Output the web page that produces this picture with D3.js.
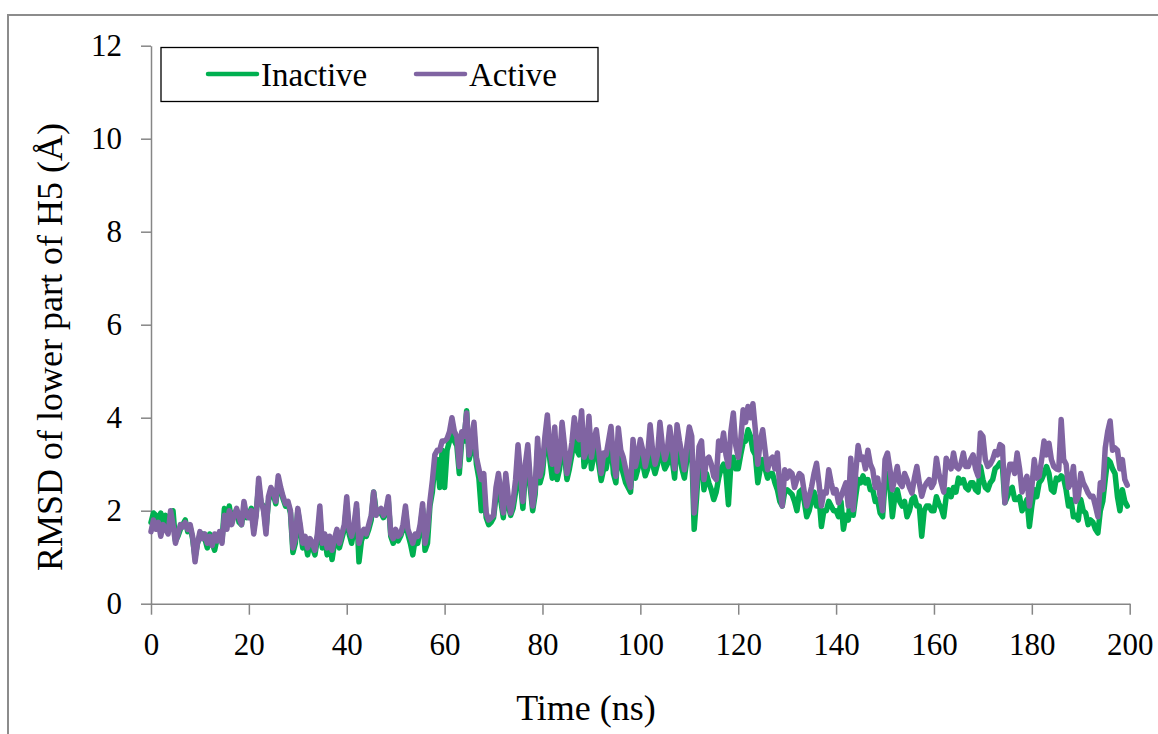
<!DOCTYPE html>
<html>
<head>
<meta charset="utf-8">
<script src="https://cdn.jsdelivr.net/npm/d3@7"></script>
<style>
  html, body { margin: 0; padding: 0; background: #fff; }
  svg { display: block; }
</style>
</head>
<body>
<svg id="chart" width="1158" height="734"></svg>
<script>
// RMSD of the lower part of H5, sampled every 0.5 ns (one row = 5 ns)
const timeStep = 0.5;
const xTicks = [0, 20, 40, 60, 80, 100, 120, 140, 160, 180, 200];
const yTicks = [0, 2, 4, 6, 8, 10, 12];
const seriesNames = ["Inactive", "Active"];

const inactive = [
  1.75,1.95, 1.9,1.8, 1.95,1.65, 1.9,1.55, 1.75,2.0,      // 0
  1.35,1.45, 1.6,1.7, 1.8,1.55, 1.65,1.4, 1.0,1.3,        // 5
  1.45,1.5, 1.4,1.2, 1.5,1.3, 1.15,1.4, 1.5,1.35,         // 10
  2.05,1.7, 2.1,1.75, 1.95,2.0, 1.75,1.7, 2.05,1.85,      // 15
  1.9,2.05, 1.6,1.95, 2.55,2.15, 2.1,1.6, 2.2,2.45,       // 20
  2.35,2.15, 2.6,2.45, 2.25,2.1, 2.15,1.95, 1.1,1.3,      // 25
  2.0,1.6, 1.2,1.35, 1.05,1.3, 1.2,1.05, 1.4,1.9,         // 30
  1.2,1.4, 1.05,1.35, 0.95,1.3, 1.5,1.2, 1.4,1.6,         // 35
  2.15,1.5, 1.3,1.6, 2.05,0.9, 1.35,1.5, 1.45,1.6,        // 40
  1.8,2.4, 2.0,1.95, 1.95,1.85, 1.95,2.2, 1.45,1.3,       // 45
  1.5,1.35, 1.45,1.6, 2.0,1.5, 1.3,1.05, 1.4,1.3,         // 50
  1.6,2.05, 1.15,1.3, 2.1,2.4, 3.0,3.1, 2.5,3.3,          // 55
  2.5,3.3, 3.5,3.7, 3.5,3.4, 2.8,3.5, 3.5,4.15,           // 60
  3.1,3.3, 3.7,3.0, 2.7,2.0, 2.5,1.85, 1.7,1.75,          // 65
  1.85,2.3, 2.6,2.2, 1.85,2.7, 2.1,1.9, 2.05,2.4,         // 70
  3.2,2.6, 2.05,2.8, 3.2,2.5, 2.0,2.35, 3.3,2.6,          // 75
  2.8,3.4, 3.8,3.1, 2.7,3.55, 2.67,2.9, 3.6,3.2,          // 80
  2.67,2.9, 3.2,3.7, 3.3,3.2, 3.9,2.95, 3.1,3.7,          // 85
  2.9,3.2, 3.4,3.0, 2.65,2.9, 2.9,3.2, 3.5,2.8,           // 90
  2.6,3.4, 3.0,2.8, 2.6,2.5, 2.4,3.2, 2.7,2.9,            // 95
  3.2,3.0, 2.75,2.9, 3.5,3.0, 2.8,3.0, 3.6,3.1,           // 100
  2.9,3.0, 3.5,3.1, 2.7,3.5, 3.2,2.9, 2.7,3.1,            // 105
  3.5,3.3, 1.6,2.3, 3.1,3.2, 2.45,2.8, 2.6,2.45,          // 110
  2.24,2.4, 2.7,2.9, 3.0,2.8, 2.13,3.0, 3.15,2.9,         // 115
  2.9,3.2, 3.46,3.5, 3.74,3.6, 3.3,3.2, 2.6,2.9,          // 120
  3.1,2.9, 2.7,2.8, 2.8,2.6, 2.45,2.2, 2.1,2.4,           // 125
  2.45,2.4, 2.35,2.2, 2.0,2.4, 2.45,2.2, 1.87,2.0,        // 130
  2.24,2.4, 2.1,2.3, 1.66,2.0, 2.0,2.2, 2.1,2.0,          // 135
  2.0,1.87, 2.2,1.6, 1.9,1.8, 2.45,1.9, 2.3,2.67,         // 140
  2.6,2.75, 2.6,2.67, 2.45,2.45, 2.2,2.24, 1.95,1.87,     // 145
  2.6,2.8, 2.5,1.87, 2.3,2.45, 2.2,2.1, 2.2,1.87,         // 150
  2.0,2.24, 2.3,2.1, 2.1,1.45, 2.0,2.1, 2.1,2.0,          // 155
  2.0,2.3, 2.15,2.05, 1.87,2.3, 2.45,2.3, 2.5,2.4,        // 160
  2.7,2.6, 2.67,2.5, 2.45,2.6, 2.6,2.45, 2.4,2.95,        // 165
  2.67,2.5, 2.45,2.6, 2.67,2.9, 2.95,3.03, 2.95,2.17,     // 170
  2.3,2.45, 2.5,2.24, 2.24,2.3, 2.0,2.1, 2.24,1.66,       // 175
  2.1,2.45, 2.3,2.6, 2.67,2.8, 2.95,2.8, 2.45,2.4,        // 180
  2.7,2.67, 2.75,2.7, 2.45,2.1, 2.24,1.87, 1.9,1.8,       // 185
  2.24,2.0, 1.95,1.7, 1.8,1.75, 1.6,1.52, 2.0,2.2,        // 190
  2.67,3.1, 3.05,2.9, 2.8,2.3, 2.0,2.45, 2.2,2.1          // 195
];

const active = [
  1.55,1.8, 1.6,1.75, 1.45,1.7, 1.6,1.5, 2.0,1.7,         // 0
  1.3,1.5, 1.7,1.65, 1.75,1.6, 1.7,1.45, 0.9,1.3,         // 5
  1.55,1.4, 1.5,1.3, 1.45,1.25, 1.5,1.35, 1.55,1.3,       // 10
  1.9,1.6, 2.0,1.7, 1.9,2.05, 1.85,1.7, 2.2,1.9,          // 15
  1.85,2.0, 1.5,1.9, 2.7,2.2, 2.0,1.5, 2.3,2.5,           // 20
  2.4,2.2, 2.75,2.5, 2.3,2.15, 2.2,2.0, 1.2,1.4,          // 25
  2.05,1.7, 1.3,1.45, 1.2,1.4, 1.3,1.15, 1.5,2.1,         // 30
  1.3,1.5, 1.2,1.45, 1.15,1.4, 1.6,1.3, 1.5,1.7,          // 35
  2.3,1.6, 1.45,1.7, 2.15,1.3, 1.5,1.6, 1.5,1.7,          // 40
  1.9,2.4, 1.9,2.0, 2.05,1.9, 2.0,2.3, 1.5,1.4,           // 45
  1.6,1.45, 1.5,1.7, 2.1,1.6, 1.45,1.3, 1.5,1.45,         // 50
  1.7,2.15, 1.3,1.6, 2.2,2.65, 3.2,3.3, 3.3,3.5,          // 55
  3.5,3.55, 3.7,4.0, 3.7,3.6, 2.95,3.7, 3.6,4.1,          // 60
  3.2,3.5, 3.9,3.15, 2.9,2.67, 2.8,1.95, 1.8,1.85,        // 65
  1.9,2.5, 2.8,2.4, 1.95,2.8, 2.3,1.95, 2.2,2.67,         // 70
  3.42,2.8, 2.2,3.0, 3.42,2.67, 2.1,2.5, 3.56,2.74,       // 75
  3.0,3.6, 4.06,3.3, 3.0,3.8, 2.85,3.1, 3.9,3.4,          // 80
  2.8,3.1, 3.46,4.0, 3.6,3.53, 4.15,3.15, 3.3,4.03,       // 85
  3.15,3.5, 3.74,3.3, 2.8,3.24, 3.2,3.5, 3.81,3.1,        // 90
  2.74,3.78, 3.3,3.15, 2.9,2.67, 2.5,3.53, 2.95,3.2,      // 95
  3.53,3.3, 2.95,3.2, 3.85,3.3, 3.0,3.2, 3.9,3.4,         // 100
  3.1,3.3, 3.8,3.4, 2.9,3.85, 3.5,3.2, 2.88,3.4,          // 105
  3.8,3.6, 1.95,2.6, 3.38,3.5, 2.67,3.1, 3.15,3.0,        // 110
  2.74,2.67, 3.5,3.3, 3.67,3.2, 2.95,3.7, 4.1,3.4,        // 115
  3.15,3.5, 4.17,3.9, 4.24,4.0, 4.3,3.74, 3.0,3.5,        // 120
  3.74,3.3, 2.88,3.1, 3.15,2.9, 3.24,2.5, 2.1,2.88,       // 125
  2.7,2.85, 2.8,2.5, 2.67,2.8, 2.75,2.4, 2.1,2.3,         // 130
  2.52,2.8, 3.02,2.6, 2.1,2.4, 2.38,2.88, 2.6,2.38,       // 135
  2.45,2.17, 2.3,2.45, 2.6,2.1, 3.13,2.02, 2.8,3.4,       // 140
  3.1,3.15, 2.9,3.3, 3.0,2.88, 2.5,2.7, 2.3,2.0,          // 145
  3.1,3.24, 2.9,2.45, 2.7,2.95, 2.6,2.52, 2.8,2.67,       // 150
  2.5,2.38, 2.7,2.95, 2.6,2.31, 2.5,2.6, 2.67,2.5,        // 155
  2.6,3.13, 2.8,2.6, 2.4,3.13, 3.0,2.9, 3.24,2.95,        // 160
  2.9,3.0, 3.24,2.95, 2.95,3.1, 3.2,2.9, 2.75,3.67,       // 165
  3.6,3.1, 2.95,3.0, 3.1,3.27, 3.2,3.42, 3.38,2.17,       // 170
  2.7,3.0, 3.0,2.8, 3.24,2.9, 2.4,2.6, 2.74,2.1,          // 175
  2.5,3.1, 2.7,2.74, 3.1,3.5, 3.2,3.45, 3.1,2.95,         // 180
  2.9,2.88, 3.96,3.1, 3.0,2.5, 2.6,2.95, 2.2,2.3,         // 185
  2.8,2.6, 2.5,2.38, 2.3,2.31, 2.1,1.87, 2.6,2.45,        // 190
  3.35,3.7, 3.93,3.3, 3.35,3.3, 2.9,3.1, 2.67,2.55        // 195
];

const colors = { Inactive: "#00B050", Active: "#8064A2" };
const axisGray = "#868686";
const serif = '"Liberation Serif", "Times New Roman", serif';

const svg = d3.select("#chart")
  .attr("font-family", serif)
  .style("font-family", serif);

// Outer chart-area frame (top and left edges)
svg.append("path")
  .attr("d", "M8,734 L8,15 L1158,15")
  .attr("fill", "none")
  .attr("stroke", "#8c8c8c")
  .attr("stroke-width", 2);

const plot = { left: 151, right: 1129.7, top: 45.7, bottom: 603.7 };

const x = d3.scaleLinear().domain([0, 200]).range([plot.left, plot.right]);
const y = d3.scaleLinear().domain([0, 12]).range([plot.bottom, plot.top]);

// Axes
const yAxis = svg.append("g")
  .attr("transform", `translate(${plot.left},0)`)
  .call(d3.axisLeft(y).tickValues(yTicks).tickSize(10).tickSizeOuter(0).tickPadding(19)
    .tickFormat(d3.format("d")));

const xAxis = svg.append("g")
  .attr("transform", `translate(0,${plot.bottom})`)
  .call(d3.axisBottom(x).tickValues(xTicks).tickSize(11).tickSizeOuter(0).tickPadding(18)
    .tickFormat(d3.format("d")));

[xAxis, yAxis].forEach(g => {
  g.attr("font-family", serif).attr("font-size", 31);
  g.select(".domain").attr("stroke", axisGray).attr("stroke-width", 1.5);
  g.selectAll(".tick line").attr("stroke", axisGray).attr("stroke-width", 1.5);
  g.selectAll(".tick text")
    .attr("fill", "#000")
    .style("font-family", serif)
    .style("font-size", "31px");
});

// Series lines (inactive first, active drawn over it)
const line = d3.line()
  .x((d, i) => x(i * timeStep))
  .y(d => y(d));

[["Inactive", inactive], ["Active", active]].forEach(([name, values]) => {
  svg.append("path")
    .datum(values)
    .attr("fill", "none")
    .attr("stroke", colors[name])
    .attr("stroke-width", 5.5)
    .attr("stroke-linejoin", "round")
    .attr("stroke-linecap", "round")
    .attr("d", line);
});

// Legend
const legend = svg.append("g");
legend.append("rect")
  .attr("x", 161).attr("y", 47.5)
  .attr("width", 437).attr("height", 54)
  .attr("fill", "#fff")
  .attr("stroke", "#000")
  .attr("stroke-width", 1.3);

const legendItems = [
  { name: seriesNames[0], x0: 208 },
  { name: seriesNames[1], x0: 416 }
];
legendItems.forEach(item => {
  legend.append("line")
    .attr("x1", item.x0).attr("x2", item.x0 + 49)
    .attr("y1", 74).attr("y2", 74)
    .attr("stroke", colors[item.name])
    .attr("stroke-width", 4.5)
    .attr("stroke-linecap", "round");
  legend.append("text")
    .attr("x", item.x0 + 53).attr("y", 86)
    .style("font-family", serif)
    .style("font-size", "33px")
    .attr("fill", "#000")
    .text(item.name);
});

// Axis titles
svg.append("text")
  .attr("x", 586).attr("y", 720)
  .attr("text-anchor", "middle")
  .style("font-family", serif)
  .style("font-size", "36px")
  .attr("fill", "#000")
  .text("Time (ns)");

svg.append("text")
  .attr("transform", "translate(62,347) rotate(-90)")
  .attr("text-anchor", "middle")
  .style("font-family", serif)
  .style("font-size", "36px")
  .attr("fill", "#000")
  .text("RMSD of lower part of H5 (Å)");
</script>
</body>
</html>
